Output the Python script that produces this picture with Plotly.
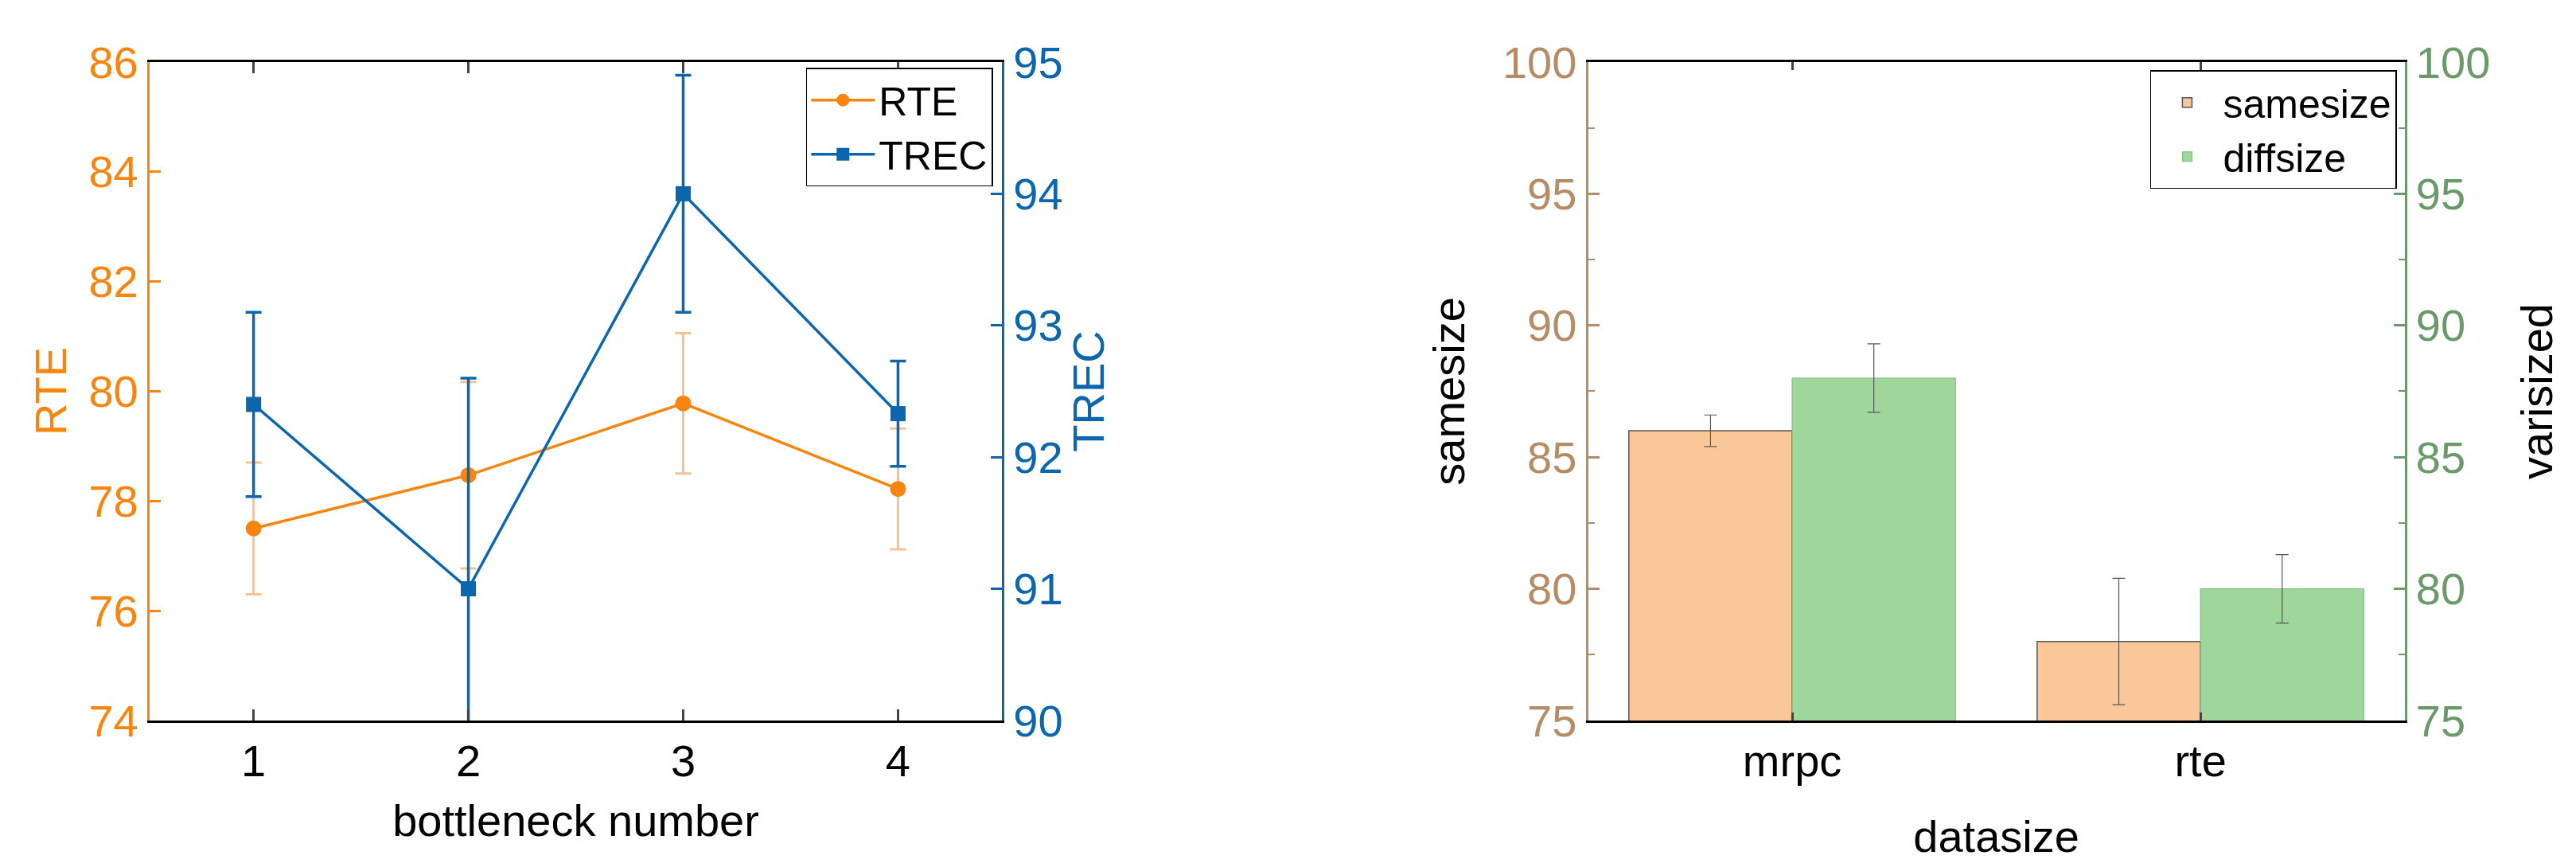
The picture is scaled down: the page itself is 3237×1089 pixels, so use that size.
import plotly.graph_objects as go

# left panel data
bottleneck = [1, 2, 3, 4]
rte_vals = [77.5, 78.47, 79.78, 78.22]
rte_err = [1.2, 1.7, 1.28, 1.1]
trec_vals = [92.4, 91.0, 94.0, 92.33]
trec_err = [0.7, 1.6, 0.9, 0.4]

# right panel data
datasets = ["mrpc", "rte"]
same_vals = [86, 78]
same_err = [0.6, 2.4]
diff_vals = [88, 80]
diff_err = [1.3, 1.3]

ORANGE = "#f7850f"
BLUE = "#0c66ad"
TAN = "#b58c66"
GREEN = "#6a9a6a"
FONT = "Liberation Sans"
FS = 56

fig = go.Figure()

fig.add_trace(go.Scatter(
    x=bottleneck, y=rte_vals, name="RTE", mode="lines+markers",
    line=dict(color=ORANGE, width=3.5), marker=dict(symbol="circle", size=20, color=ORANGE),
    error_y=dict(type="data", array=rte_err, color="#f8c190", thickness=3, width=10),
    xaxis="x", yaxis="y", legend="legend"))
fig.add_trace(go.Scatter(
    x=bottleneck, y=trec_vals, name="TREC", mode="lines+markers",
    line=dict(color=BLUE, width=3.5), marker=dict(symbol="square", size=19, color=BLUE),
    error_y=dict(type="data", array=trec_err, color=BLUE, thickness=3.5, width=10),
    xaxis="x", yaxis="y2", legend="legend"))

fig.add_trace(go.Bar(
    x=datasets, y=same_vals, name="samesize", marker=dict(color="#fac898", line=dict(color="#555555", width=1.5)),
    error_y=dict(type="data", array=same_err, color="#555555", thickness=1.2, width=8),
    xaxis="x2", yaxis="y3", legend="legend2"))
fig.add_trace(go.Bar(
    x=datasets, y=diff_vals, name="diffsize", marker=dict(color="#9fd69b", line=dict(color="#7fb67b", width=1)),
    error_y=dict(type="data", array=diff_err, color="#555555", thickness=1.2, width=8),
    xaxis="x2", yaxis="y3", legend="legend2"))
fig.add_trace(go.Scatter(x=datasets, y=[None, None], showlegend=False, xaxis="x2", yaxis="y4",
                         hoverinfo="skip"))

dom_y = [0.156, 0.962]
tickf = dict(family=FONT, size=FS)
titlef = dict(family=FONT, size=FS)

fig.update_layout(
    width=3237, height=1089, plot_bgcolor="white", paper_bgcolor="white",
    margin=dict(l=0, r=0, t=0, b=0),
    barmode="group", bargap=0.2, bargroupgap=0,
    font=dict(family=FONT, color="black"),
    xaxis=dict(domain=[0.0556, 0.3865], range=[0.516, 4.484], tickvals=bottleneck,
               ticks="inside", ticklen=14, tickwidth=3, showline=True, linecolor="black", linewidth=3,
               mirror="ticks", showgrid=False, zeroline=False, tickfont=tickf,
               title=dict(text="bottleneck number", font=titlef, standoff=25)),
    yaxis=dict(domain=dom_y, anchor="x", range=[74, 86], dtick=2, ticks="inside", ticklen=14, tickwidth=3,
               showline=True, linecolor=ORANGE, linewidth=3, showgrid=False, zeroline=False,
               tickfont=dict(family=FONT, size=FS, color=ORANGE), tickcolor=ORANGE,
               title=dict(text="RTE", font=dict(family=FONT, size=FS, color=ORANGE), standoff=10)),
    yaxis2=dict(overlaying="y", side="right", anchor="x", range=[90, 95], dtick=1, ticks="inside",
                ticklen=14, tickwidth=3, showline=True, linecolor=BLUE, linewidth=3, showgrid=False,
                zeroline=False, tickfont=dict(family=FONT, size=FS, color=BLUE), tickcolor=BLUE,
                title=dict(text="TREC", font=dict(family=FONT, size=FS, color=BLUE), standoff=10)),
    xaxis2=dict(domain=[0.614, 0.931], anchor="y3", ticks="inside", ticklen=10, tickwidth=3,
                showline=True, linecolor="black", linewidth=3, mirror="ticks", showgrid=False,
                tickfont=tickf, title=dict(text="datasize", font=titlef, standoff=45)),
    yaxis3=dict(domain=dom_y, anchor="x2", range=[75, 100], dtick=5, ticks="inside", ticklen=14,
                tickwidth=3, showline=True, linecolor=TAN, linewidth=3, showgrid=False, zeroline=False,
                tickcolor=TAN, tickfont=dict(family=FONT, size=FS, color=TAN),
                minor=dict(dtick=2.5, ticks="inside", ticklen=8, tickcolor=TAN, tickwidth=2),
                title=dict(text="samesize", font=titlef, standoff=30)),
    yaxis4=dict(overlaying="y3", side="right", anchor="x2", range=[75, 100], dtick=5, ticks="inside",
                ticklen=14, tickwidth=3, showline=True, linecolor=GREEN, linewidth=3, showgrid=False,
                zeroline=False, tickcolor=GREEN, tickfont=dict(family=FONT, size=FS, color=GREEN),
                minor=dict(dtick=2.5, ticks="inside", ticklen=8, tickcolor=GREEN, tickwidth=2),
                title=dict(text="varisized", font=titlef, standoff=40)),
    legend=dict(x=0.383, y=0.955, xanchor="right", yanchor="top", bgcolor="white", itemwidth=80,
                bordercolor="black", borderwidth=1.5, font=dict(family=FONT, size=50)),
    legend2=dict(x=0.928, y=0.952, xanchor="right", yanchor="top", bgcolor="white", itemwidth=80,
                 bordercolor="black", borderwidth=1.5, font=dict(family=FONT, size=50)),
)

fig.write_html("out.html")
